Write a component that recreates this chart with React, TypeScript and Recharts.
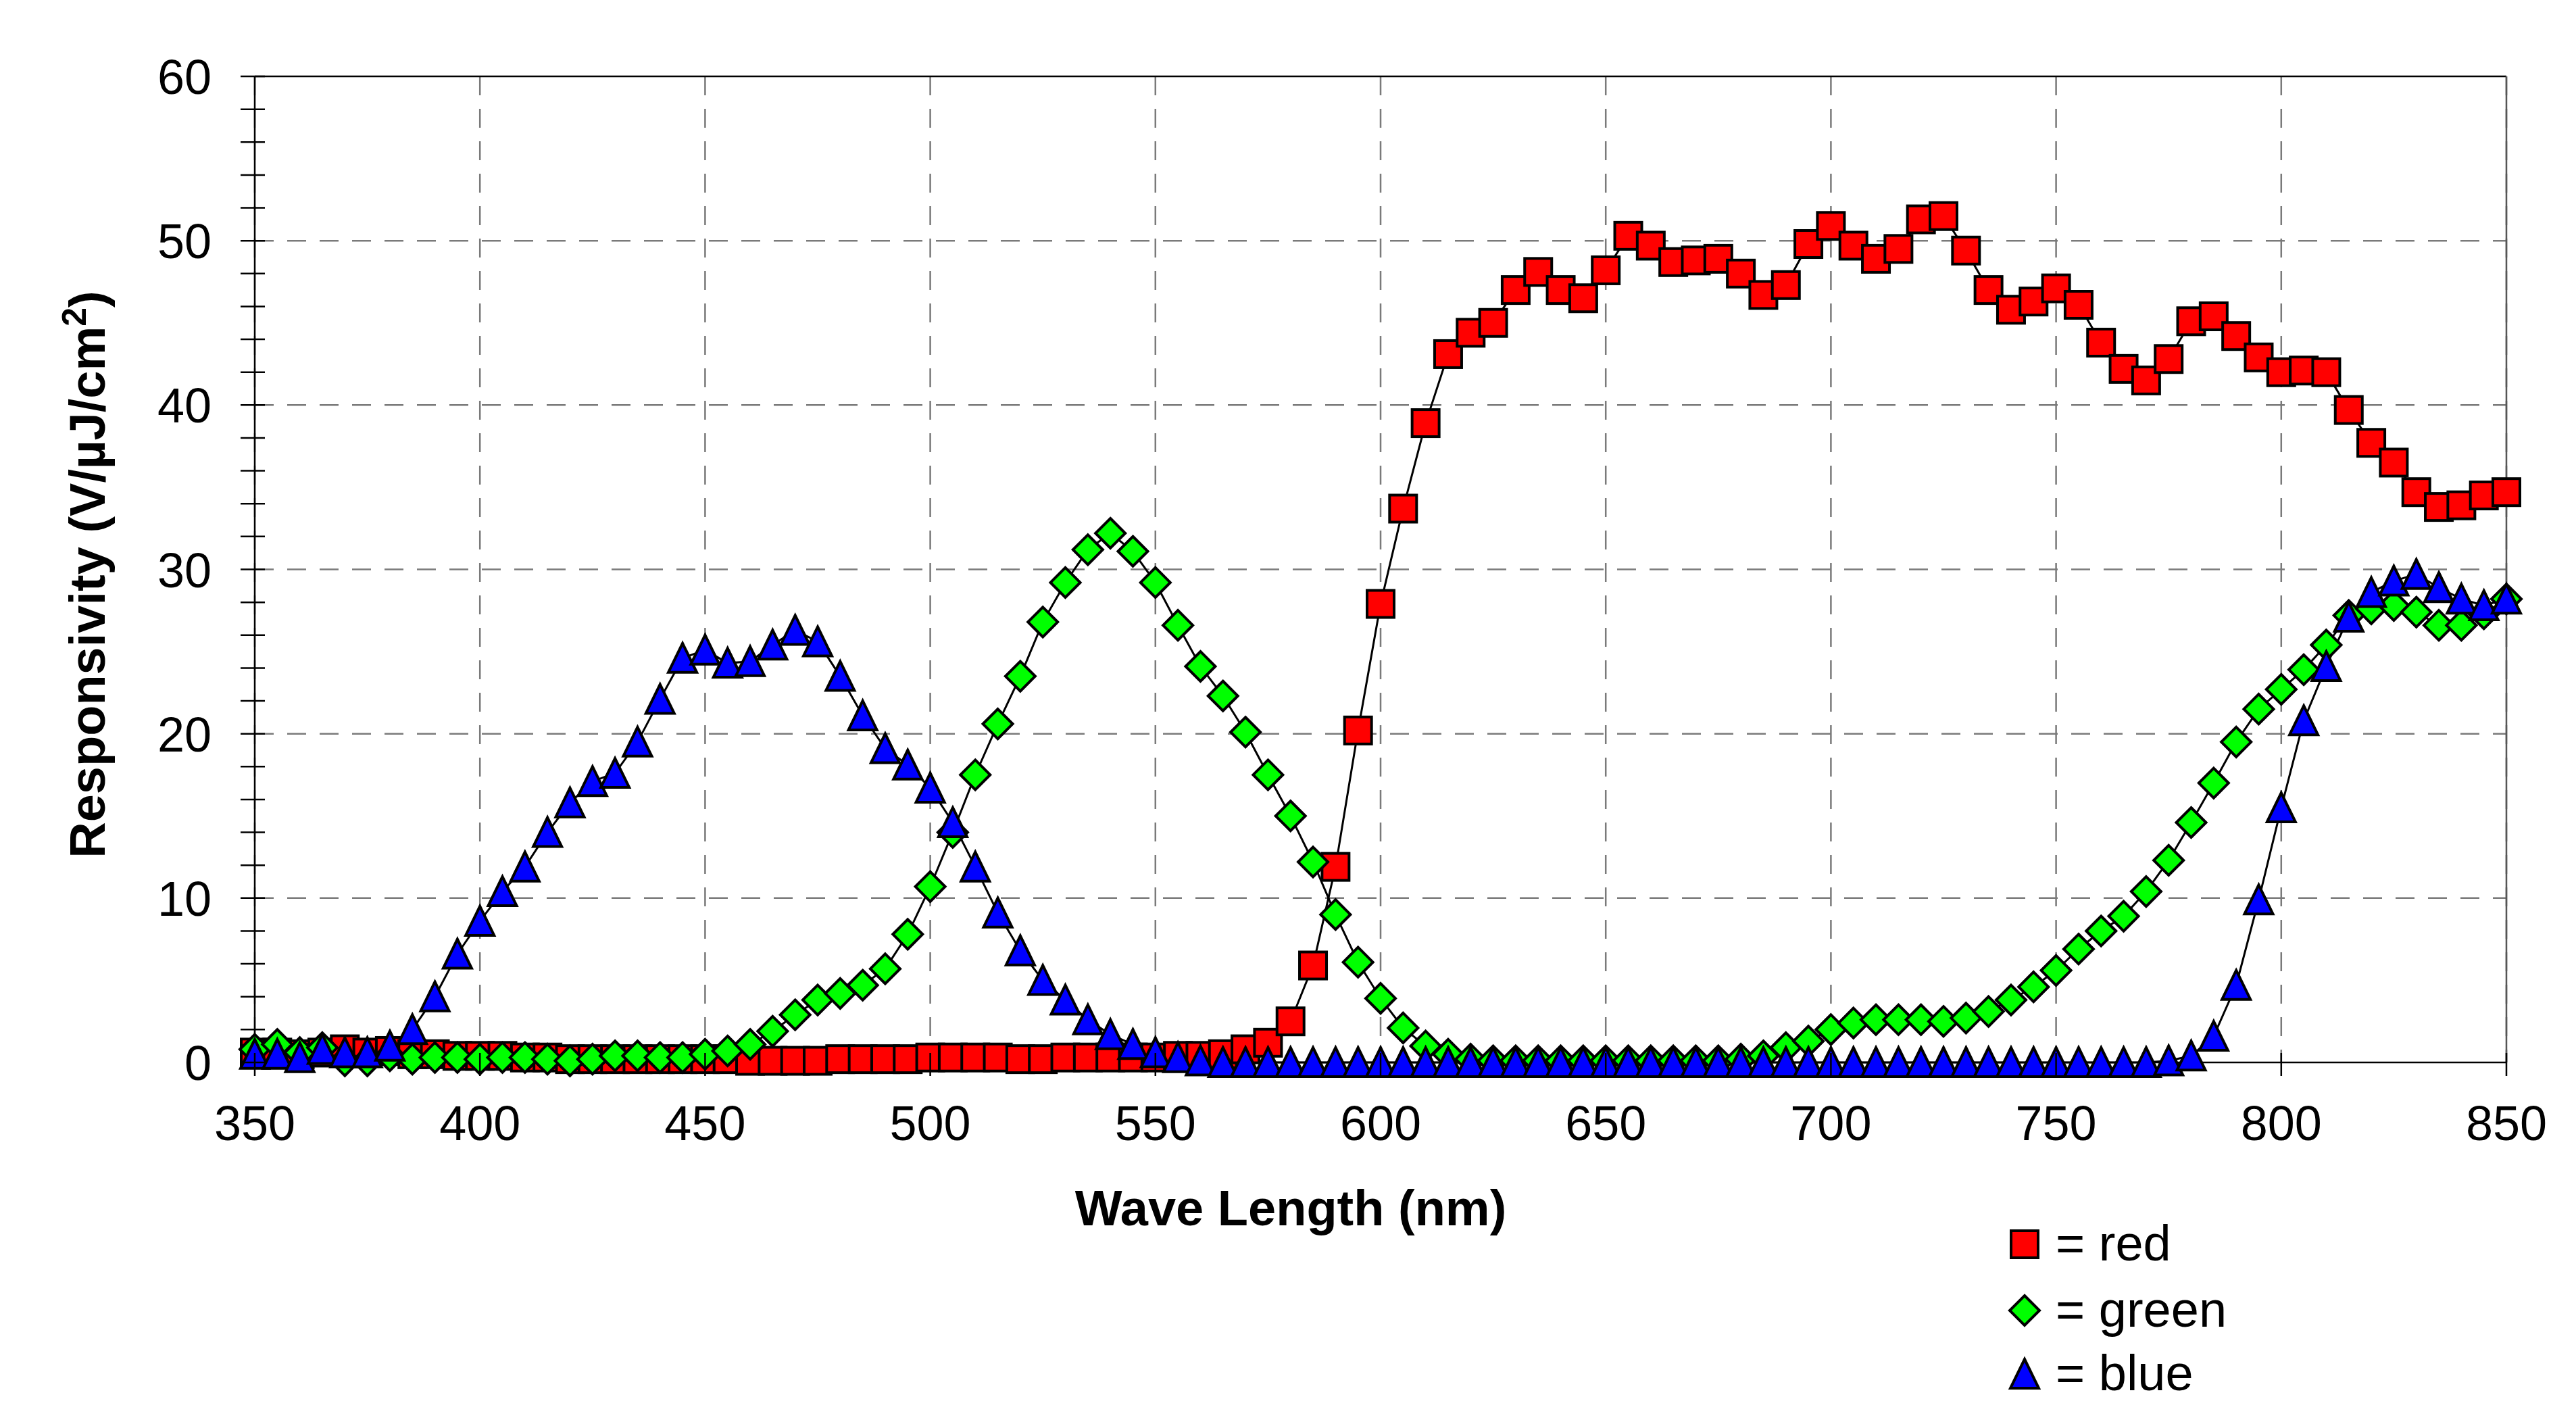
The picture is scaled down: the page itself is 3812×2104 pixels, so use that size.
import React from "react"
import { ComposedChart, Line, XAxis, YAxis, CartesianGrid, ReferenceLine, Legend } from "recharts"

const wavelengths = [
  350, 355, 360, 365, 370, 375, 380, 385, 390, 395,
  400, 405, 410, 415, 420, 425, 430, 435, 440, 445,
  450, 455, 460, 465, 470, 475, 480, 485, 490, 495,
  500, 505, 510, 515, 520, 525, 530, 535, 540, 545,
  550, 555, 560, 565, 570, 575, 580, 585, 590, 595,
  600, 605, 610, 615, 620, 625, 630, 635, 640, 645,
  650, 655, 660, 665, 670, 675, 680, 685, 690, 695,
  700, 705, 710, 715, 720, 725, 730, 735, 740, 745,
  750, 755, 760, 765, 770, 775, 780, 785, 790, 795,
  800, 805, 810, 815, 820, 825, 830, 835, 840, 845, 850,
]

const red = [
  0.6, 0.6, 0.5, 0.6, 0.8, 0.6, 0.7, 0.5, 0.5, 0.4,
  0.4, 0.4, 0.3, 0.3, 0.2, 0.2, 0.2, 0.2, 0.2, 0.2,
  0.2, 0.2, 0.1, 0.1, 0.1, 0.1, 0.2, 0.2, 0.2, 0.2,
  0.3, 0.3, 0.3, 0.3, 0.2, 0.2, 0.3, 0.3, 0.3, 0.3,
  0.3, 0.4, 0.4, 0.5, 0.8, 1.2, 2.5, 5.9, 11.9, 20.2,
  27.9, 33.7, 38.9, 43.1, 44.4, 45.0, 47.0, 48.1, 47.0, 46.5,
  48.2, 50.3, 49.7, 48.7, 48.8, 48.9, 48.0, 46.7, 47.3, 49.8,
  50.9, 49.7, 48.9, 49.5, 51.3, 51.5, 49.4, 47.0, 45.8, 46.3,
  47.1, 46.1, 43.8, 42.2, 41.5, 42.8, 45.1, 45.4, 44.2, 42.9,
  42.0, 42.1, 42.0, 39.7, 37.7, 36.5, 34.7, 33.8, 33.9, 34.5, 34.7,
]

const green = [
  0.8, 1.1, 0.6, 0.9, 0.1, 0.1, 0.4, 0.2, 0.3, 0.3,
  0.2, 0.3, 0.3, 0.2, 0.1, 0.2, 0.4, 0.4, 0.3, 0.3,
  0.5, 0.7, 1.1, 1.9, 2.9, 3.8, 4.2, 4.7, 5.7, 7.8,
  10.7, 14.0, 17.5, 20.6, 23.5, 26.8, 29.2, 31.2, 32.2, 31.1,
  29.2, 26.6, 24.1, 22.3, 20.1, 17.5, 15.0, 12.2, 9.0, 6.1,
  3.9, 2.1, 1.0, 0.5, 0.2, 0.1, 0.1, 0.1, 0.1, 0.1,
  0.1, 0.1, 0.1, 0.1, 0.1, 0.1, 0.2, 0.4, 0.9, 1.3,
  2.0, 2.4, 2.6, 2.6, 2.6, 2.5, 2.7, 3.1, 3.8, 4.6,
  5.6, 6.9, 8.0, 8.9, 10.4, 12.3, 14.6, 17.0, 19.5, 21.5,
  22.7, 23.9, 25.4, 27.2, 27.6, 27.8, 27.4, 26.6, 26.6, 27.3, 28.2,
]

const blue = [
  0.5, 0.5, 0.3, 0.8, 0.6, 0.6, 1.0, 2.0, 4.0, 6.6,
  8.6, 10.4, 11.9, 14.0, 15.8, 17.1, 17.6, 19.5, 22.1, 24.6,
  25.1, 24.3, 24.4, 25.4, 26.3, 25.6, 23.5, 21.1, 19.1, 18.1,
  16.7, 14.6, 11.9, 9.1, 6.8, 5.0, 3.8, 2.6, 1.7, 1.1,
  0.6, 0.3, 0.1, 0, 0, 0, 0, 0, 0, 0,
  0, 0, 0, 0, 0, 0, 0, 0, 0, 0,
  0, 0, 0, 0, 0, 0, 0, 0, 0, 0,
  0, 0, 0, 0, 0, 0, 0, 0, 0, 0,
  0, 0, 0, 0, 0, 0.1, 0.4, 1.6, 4.7, 9.9,
  15.5, 20.8, 24.1, 27.1, 28.6, 29.3, 29.7, 28.9, 28.2, 27.8, 28.2,
]

const xTicks = [350, 400, 450, 500, 550, 600, 650, 700, 750, 800, 850]
const yTicks = [0, 2, 4, 6, 8, 10, 12, 14, 16, 18, 20, 22, 24, 26, 28, 30, 32, 34, 36, 38, 40, 42, 44, 46, 48, 50, 52, 54, 56, 58, 60]
const gridTicks = [10, 20, 30, 40, 50]
const yMax = 60

const data = wavelengths.map((w, i) => ({ w, red: red[i], green: green[i], blue: blue[i] }))

const FONT = "'Liberation Sans', Arial, Helvetica, sans-serif"

// horizontal grid only every 10, while the axis keeps its minor ticks every 2
function gridRows({ yAxis, offset }: any) {
  if (yAxis && typeof yAxis.scale === "function") return gridTicks.map((v) => yAxis.scale(v))
  if (offset) return gridTicks.map((v) => offset.top + offset.height * (1 - v / yMax))
  return []
}

function SquareMark({ cx, cy }: any) {
  if (cx == null || cy == null) return null
  return <rect x={cx - 20} y={cy - 20} width={40} height={40} fill="#ff0000" stroke="#000" strokeWidth={4} />
}

function DiamondMark({ cx, cy }: any) {
  if (cx == null || cy == null) return null
  return (
    <path
      d={`M${cx},${cy - 22}L${cx + 22},${cy}L${cx},${cy + 22}L${cx - 22},${cy}Z`}
      fill="#00ff00"
      stroke="#000"
      strokeWidth={4}
    />
  )
}

function TriangleMark({ cx, cy }: any) {
  if (cx == null || cy == null) return null
  return (
    <path
      d={`M${cx},${cy - 22}L${cx + 21},${cy + 21}L${cx - 21},${cy + 21}Z`}
      fill="#0000ff"
      stroke="#000"
      strokeWidth={4}
    />
  )
}

// tick marks cross the axis line; labels only on every fifth tick
function YTick({ x, y, payload }: any) {
  const major = payload.value % 10 === 0
  return (
    <g>
      <line x1={x - 21} y1={y} x2={x + 15} y2={y} stroke="#000" strokeWidth={2.5} />
      {major && (
        <text x={x - 64} y={y + 26} textAnchor="end" fontFamily={FONT} fontSize={72} fill="#000">
          {payload.value}
        </text>
      )}
    </g>
  )
}

function XTick({ x, y, payload }: any) {
  return (
    <g>
      <line x1={x} y1={y - 14} x2={x} y2={y + 20} stroke="#000" strokeWidth={2.5} />
      <text x={x} y={y + 115} textAnchor="middle" fontFamily={FONT} fontSize={72} fill="#000">
        {payload.value}
      </text>
    </g>
  )
}

function XTitle() {
  return (
    <text x={1910} y={1813} textAnchor="middle" fontFamily={FONT} fontSize={74} fontWeight="bold" fill="#000">
      Wave Length (nm)
    </text>
  )
}

function YTitle() {
  return (
    <text
      x={155}
      y={850}
      transform="rotate(-90, 155, 850)"
      textAnchor="middle"
      fontFamily={FONT}
      fontSize={74}
      fontWeight="bold"
      fill="#000"
    >
      Responsivity (V/µJ/cm
      <tspan fontSize={50} dy={-28}>2</tspan>
      <tspan dy={28}>)</tspan>
    </text>
  )
}

function LegendBox() {
  const rows = [
    { label: "= red", cy: 61, mark: <SquareMark cx={46} cy={61} /> },
    { label: "= green", cy: 159, mark: <DiamondMark cx={46} cy={159} /> },
    { label: "= blue", cy: 253, mark: <TriangleMark cx={46} cy={253} /> },
  ]
  return (
    <svg width={600} height={320}>
      {rows.map((r) => (
        <g key={r.label}>
          {r.mark}
          <text x={92} y={r.cy + 24} fontFamily={FONT} fontSize={74} fill="#000">
            {r.label}
          </text>
        </g>
      ))}
    </svg>
  )
}

export default function App() {
  return (
    <div style={{ width: 3812, height: 2104, background: "#fff" }}>
      <style>{"body{margin:0;overflow:hidden;background:#fff}"}</style>
      <ComposedChart width={3812} height={2104} data={data} margin={{ top: 113, right: 103, left: 0, bottom: 0 }}>
        <CartesianGrid
          yAxisId="l"
          stroke="#7a7a7a"
          strokeWidth={2.5}
          strokeDasharray="28 20"
          horizontalCoordinatesGenerator={gridRows}
        />
        <XAxis
          dataKey="w"
          type="number"
          domain={[350, 850]}
          ticks={xTicks}
          interval={0}
          height={532}
          tickSize={0}
          tickMargin={0}
          tickLine={false}
          axisLine={{ stroke: "#000", strokeWidth: 2.5 }}
          tick={<XTick />}
          label={<XTitle />}
        />
        <YAxis
          yAxisId="l"
          type="number"
          domain={[0, yMax]}
          ticks={yTicks}
          interval={0}
          width={377}
          tickSize={0}
          tickMargin={0}
          tickLine={false}
          axisLine={{ stroke: "#000", strokeWidth: 2.5 }}
          tick={<YTick />}
          label={<YTitle />}
        />
        <ReferenceLine yAxisId="l" y={60} stroke="#000" strokeWidth={2.5} />
        <ReferenceLine yAxisId="l" x={850} stroke="#555" strokeWidth={2.5} />
        <Legend
          layout="vertical"
          align="center"
          verticalAlign="middle"
          wrapperStyle={{ position: "absolute", left: 2950, top: 1780, width: 600, height: 320 }}
          content={() => <LegendBox />}
        />
        <Line
          yAxisId="l"
          dataKey="red"
          type="linear"
          stroke="#000"
          strokeWidth={3}
          isAnimationActive={false}
          activeDot={false}
          dot={(p: any) => <SquareMark key={`r${p.index}`} cx={p.cx} cy={p.cy} />}
        />
        <Line
          yAxisId="l"
          dataKey="green"
          type="linear"
          stroke="#000"
          strokeWidth={3}
          isAnimationActive={false}
          activeDot={false}
          dot={(p: any) => <DiamondMark key={`g${p.index}`} cx={p.cx} cy={p.cy} />}
        />
        <Line
          yAxisId="l"
          dataKey="blue"
          type="linear"
          stroke="#000"
          strokeWidth={3}
          isAnimationActive={false}
          activeDot={false}
          dot={(p: any) => <TriangleMark key={`b${p.index}`} cx={p.cx} cy={p.cy} />}
        />
      </ComposedChart>
    </div>
  )
}
